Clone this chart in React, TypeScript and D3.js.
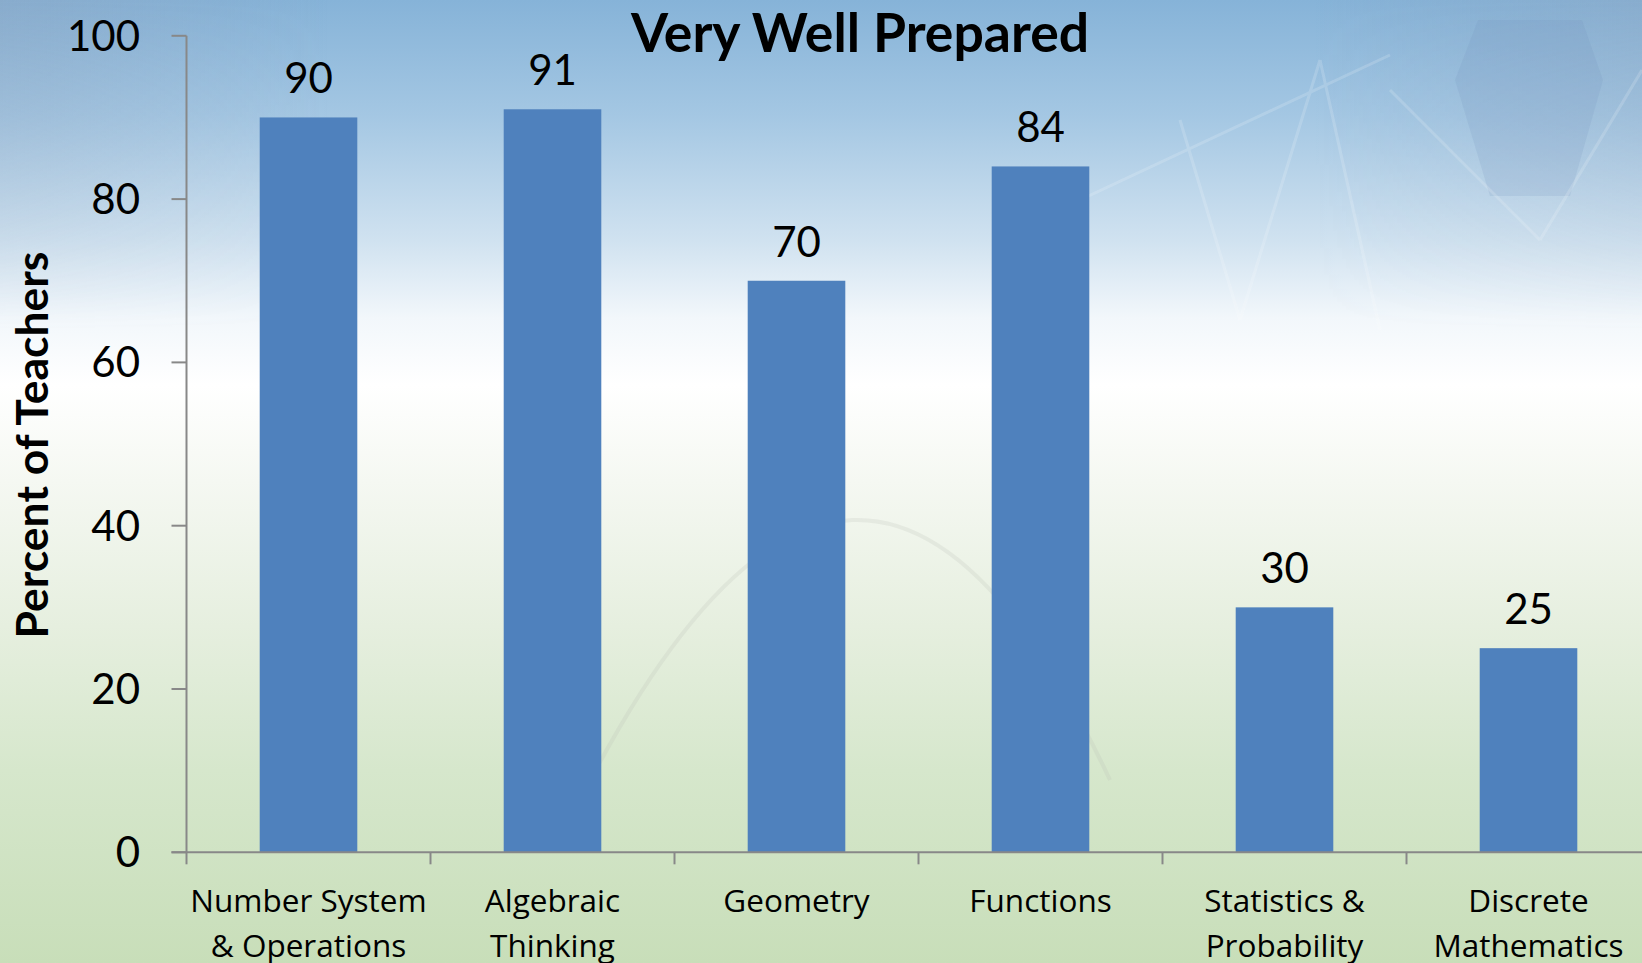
import React from "react";
import * as d3 from "d3";

const categories = [
  "Number System & Operations",
  "Algebraic Thinking",
  "Geometry",
  "Functions",
  "Statistics & Probability",
  "Discrete Mathematics",
];
const categoryLines = [
  ["Number System", "& Operations"],
  ["Algebraic", "Thinking"],
  ["Geometry"],
  ["Functions"],
  ["Statistics &", "Probability"],
  ["Discrete", "Mathematics"],
];
const values = [90, 91, 70, 84, 30, 25];
const yTicks = [0, 20, 40, 60, 80, 100];
const title = "Very Well Prepared";
const yAxisTitle = "Percent of Teachers";

const W = 1642;
const H = 963;
const FONT = "Lato, 'Open Sans', sans-serif";
const CAT_FONT = "'Open Sans', Lato, sans-serif";

export default function App() {
  React.useEffect(() => {
    document.body.style.margin = "0";
  }, []);

  const x = d3
    .scaleBand<string>()
    .domain(categories)
    .range([186.5, 186.5 + 6 * 244])
    .paddingInner(0.6)
    .paddingOuter(0.3);
  const y = d3.scaleLinear().domain([0, 100]).range([852.3, 35.8]);
  const step = x.step();
  const x0 = x.range()[0];
  const boundaries = d3.range(categories.length + 1).map((i) => x0 + i * step);

  const arc = d3.path();
  arc.moveTo(580, 800);
  arc.quadraticCurveTo(860, 250, 1110, 780);

  return (
    <svg
      width={W}
      height={H}
      style={{ position: "absolute", left: 0, top: 0, display: "block" }}
    >
      <defs>
        <linearGradient id="bg" x1="0" y1="0" x2="0" y2="1">
          <stop offset="0" stopColor="#86b3d8" />
          <stop offset="0.12" stopColor="#a4c7e3" />
          <stop offset="0.25" stopColor="#d0e2f0" />
          <stop offset="0.33" stopColor="#f2f7fb" />
          <stop offset="0.4" stopColor="#ffffff" />
          <stop offset="0.5" stopColor="#f5f8f2" />
          <stop offset="0.65" stopColor="#e6efdf" />
          <stop offset="0.8" stopColor="#d6e7cc" />
          <stop offset="1" stopColor="#c8deb9" />
        </linearGradient>
        <linearGradient id="side" x1="0" y1="0" x2="1" y2="0">
          <stop offset="0" stopColor="#8e9fb8" stopOpacity="0.35" />
          <stop offset="0.2" stopColor="#8e9fb8" stopOpacity="0" />
          <stop offset="0.8" stopColor="#8e9fb8" stopOpacity="0" />
          <stop offset="1" stopColor="#8e9fb8" stopOpacity="0.3" />
        </linearGradient>
        <linearGradient id="vfade" x1="0" y1="0" x2="0" y2="1">
          <stop offset="0" stopColor="#fff" stopOpacity="1" />
          <stop offset="1" stopColor="#fff" stopOpacity="0" />
        </linearGradient>
        <mask id="sidemask" maskUnits="userSpaceOnUse" x={0} y={0} width={W} height={H}>
          <rect x={0} y={0} width={W} height={330} fill="url(#vfade)" />
        </mask>
      </defs>
      <rect x={0} y={0} width={W} height={H} fill="url(#bg)" />
      <rect x={0} y={0} width={W} height={330} fill="url(#side)" mask="url(#sidemask)" />

      {/* faint decorative shapes */}
      <polygon
        points="1478,20 1582,20 1603,80 1570,196 1490,196 1455,80"
        fill="#6f8cb8"
        opacity={0.16}
      />
      <g stroke="#ffffff" strokeWidth={3} opacity={0.16} fill="none">
        <line x1={1080} y1={200} x2={1390} y2={55} />
        <line x1={1180} y1={120} x2={1240} y2={320} />
        <line x1={1240} y1={320} x2={1320} y2={60} />
        <line x1={1320} y1={60} x2={1380} y2={330} />
        <line x1={1390} y1={90} x2={1540} y2={240} />
        <line x1={1540} y1={240} x2={1642} y2={70} />
      </g>
      <path d={arc.toString()} stroke="#b9bdb4" strokeWidth={4} fill="none" opacity={0.22} />

      {/* bars */}
      {categories.map((c, i) => (
        <rect
          key={c}
          x={x(c)}
          y={y(values[i])}
          width={x.bandwidth()}
          height={y(0) - y(values[i])}
          fill="#4f81bd"
        />
      ))}

      {/* data labels */}
      {categories.map((c, i) => (
        <text
          key={"v" + c}
          x={(x(c) as number) + x.bandwidth() / 2}
          y={y(values[i]) - 24}
          textAnchor="middle"
          fontFamily={FONT}
          fontSize={42}
          fill="#000"
        >
          {values[i]}
        </text>
      ))}

      {/* y axis */}
      <line x1={186.5} x2={186.5} y1={y(100)} y2={y(0)} stroke="#888" strokeWidth={2} />
      {yTicks.map((t) => (
        <g key={"t" + t}>
          <line x1={171.5} x2={186.5} y1={y(t)} y2={y(t)} stroke="#888" strokeWidth={2} />
          <text
            x={140}
            y={y(t) + 15}
            textAnchor="end"
            fontFamily={FONT}
            fontSize={42}
            fill="#000"
          >
            {t}
          </text>
        </g>
      ))}

      {/* x axis */}
      <line x1={171.5} x2={W} y1={y(0)} y2={y(0)} stroke="#888" strokeWidth={2} />
      {boundaries.map((b, i) => (
        <line key={"b" + i} x1={b} x2={b} y1={y(0)} y2={y(0) + 12} stroke="#888" strokeWidth={2} />
      ))}
      {categories.map((c, i) => (
        <text
          key={"c" + c}
          x={(x(c) as number) + x.bandwidth() / 2}
          y={912}
          textAnchor="middle"
          fontFamily={CAT_FONT}
          fontSize={31.5}
          fill="#000"
        >
          {categoryLines[i].map((l, j) => (
            <tspan key={j} x={(x(c) as number) + x.bandwidth() / 2} dy={j === 0 ? 0 : 45}>
              {l}
            </tspan>
          ))}
        </text>
      ))}

      {/* title */}
      <text
        x={860}
        y={52}
        textAnchor="middle"
        fontFamily={FONT}
        fontWeight="bold"
        fontSize={53.5}
        fill="#000"
      >
        {title}
      </text>

      {/* y axis title */}
      <text
        transform="translate(48,445) rotate(-90)"
        textAnchor="middle"
        fontFamily={FONT}
        fontWeight="bold"
        fontSize={44.5}
        fill="#000"
      >
        {yAxisTitle}
      </text>
    </svg>
  );
}
